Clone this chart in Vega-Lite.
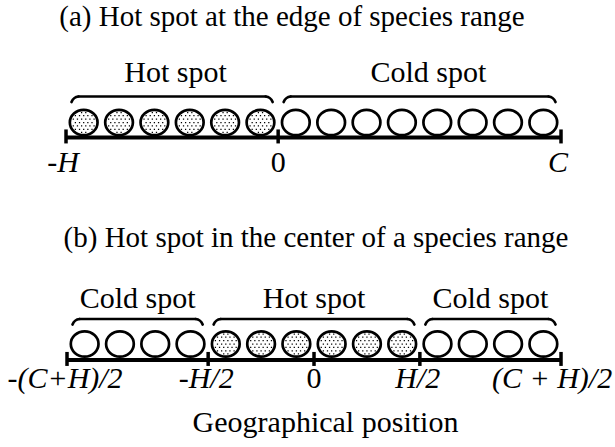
{
  "$schema": "https://vega.github.io/schema/vega-lite/v6.json",
  "padding": 0,
  "spacing": 0,
  "background": "white",
  "config": {
    "view": {"stroke": null},
    "concat": {"spacing": 0},
    "text": {"font": "Liberation Serif", "fontSize": 30, "color": "black", "baseline": "alphabetic"}
  },
  "datasets": {
    "circlesA": [
      {"pos": -5.5, "zone": "hot"}, {"pos": -4.5, "zone": "hot"}, {"pos": -3.5, "zone": "hot"},
      {"pos": -2.5, "zone": "hot"}, {"pos": -1.5, "zone": "hot"}, {"pos": -0.5, "zone": "hot"},
      {"pos": 0.5, "zone": "cold"}, {"pos": 1.5, "zone": "cold"}, {"pos": 2.5, "zone": "cold"},
      {"pos": 3.5, "zone": "cold"}, {"pos": 4.5, "zone": "cold"}, {"pos": 5.5, "zone": "cold"},
      {"pos": 6.5, "zone": "cold"}, {"pos": 7.5, "zone": "cold"}
    ],
    "circlesB": [
      {"pos": -6.5, "zone": "cold"}, {"pos": -5.5, "zone": "cold"}, {"pos": -4.5, "zone": "cold"},
      {"pos": -3.5, "zone": "cold"}, {"pos": -2.5, "zone": "hot"}, {"pos": -1.5, "zone": "hot"},
      {"pos": -0.5, "zone": "hot"}, {"pos": 0.5, "zone": "hot"}, {"pos": 1.5, "zone": "hot"},
      {"pos": 2.5, "zone": "hot"}, {"pos": 3.5, "zone": "cold"}, {"pos": 4.5, "zone": "cold"},
      {"pos": 5.5, "zone": "cold"}, {"pos": 6.5, "zone": "cold"}
    ],
    "spotsA": [
      {"label": "Hot spot", "from": -6, "to": 0, "mid": -2.9},
      {"label": "Cold spot", "from": 0, "to": 8, "mid": 4.25}
    ],
    "spotsB": [
      {"label": "Cold spot", "from": -7, "to": -3, "mid": -5},
      {"label": "Hot spot", "from": -3, "to": 3, "mid": 0},
      {"label": "Cold spot", "from": 3, "to": 7, "mid": 5}
    ],
    "ticksA": [
      {"value": -6, "label": "-H"},
      {"value": 0, "label": "0"},
      {"value": 8, "label": "C"}
    ],
    "ticksB": [
      {"value": -7, "label": "-(C+H)/2"},
      {"value": -3, "label": "-H/2"},
      {"value": 0, "label": "0"},
      {"value": 3, "label": "H/2"},
      {"value": 7, "label": "(C + H)/2"}
    ]
  },
  "vconcat": [
    {
      "width": 615,
      "height": 215,
      "layer": [
        {
          "data": {"name": "ticksA"},
          "mark": {"type": "rule", "color": "black", "strokeWidth": 4},
          "encoding": {
            "x": {"aggregate": "min", "field": "value", "type": "quantitative", "scale": {"domain": [-7.867, 9.527], "nice": false, "zero": false}, "axis": null},
            "x2": {"aggregate": "max", "field": "value"},
            "y": {"datum": 0, "type": "quantitative", "scale": {"domain": [-2.192, 3.889], "nice": false, "zero": false}, "axis": null}
          }
        },
        {
          "data": {"name": "ticksA"},
          "mark": {"type": "tick", "orient": "vertical", "size": 14, "thickness": 3.5, "color": "black", "opacity": 1},
          "encoding": {
            "x": {"field": "value", "type": "quantitative", "scale": {"domain": [-7.867, 9.527], "nice": false, "zero": false}, "axis": null},
            "y": {"datum": 0.03, "type": "quantitative", "scale": {"domain": [-2.192, 3.889], "nice": false, "zero": false}, "axis": null}
          }
        },
        {
          "data": {"name": "circlesA"},
          "mark": {"type": "point", "shape": "M-1,0C-1,-0.5026,-0.5523,-0.91,0,-0.91C0.5523,-0.91,1,-0.5026,1,0C1,0.5026,0.5523,0.91,0,0.91C-0.5523,0.91,-1,0.5026,-1,0Z", "size": 767, "filled": true, "fill": "white", "stroke": "black", "strokeWidth": 2.7, "opacity": 1},
          "encoding": {
            "x": {"field": "pos", "type": "quantitative", "scale": {"domain": [-7.867, 9.527], "nice": false, "zero": false}, "axis": null},
            "y": {"datum": 0.424, "type": "quantitative", "scale": {"domain": [-2.192, 3.889], "nice": false, "zero": false}, "axis": null}
          }
        },
        {
          "data": {"name": "circlesA"},
          "transform": [{"filter": "datum.zone == 'hot'"}],
          "mark": {"type": "point", "shape": "M-0.195,-0.765h0.09v0.09h-0.09Z M0.105,-0.765h0.09v0.09h-0.09Z M-0.645,-0.545h0.09v0.09h-0.09Z M-0.345,-0.545h0.09v0.09h-0.09Z M-0.045,-0.545h0.09v0.09h-0.09Z M0.255,-0.545h0.09v0.09h-0.09Z M0.555,-0.545h0.09v0.09h-0.09Z M-0.795,-0.295h0.09v0.09h-0.09Z M-0.495,-0.295h0.09v0.09h-0.09Z M-0.195,-0.295h0.09v0.09h-0.09Z M0.105,-0.295h0.09v0.09h-0.09Z M0.405,-0.295h0.09v0.09h-0.09Z M0.705,-0.295h0.09v0.09h-0.09Z M-0.645,-0.045h0.09v0.09h-0.09Z M-0.345,-0.045h0.09v0.09h-0.09Z M-0.045,-0.045h0.09v0.09h-0.09Z M0.255,-0.045h0.09v0.09h-0.09Z M0.555,-0.045h0.09v0.09h-0.09Z M-0.795,0.205h0.09v0.09h-0.09Z M-0.495,0.205h0.09v0.09h-0.09Z M-0.195,0.205h0.09v0.09h-0.09Z M0.105,0.205h0.09v0.09h-0.09Z M0.405,0.205h0.09v0.09h-0.09Z M0.705,0.205h0.09v0.09h-0.09Z M-0.645,0.455h0.09v0.09h-0.09Z M-0.345,0.455h0.09v0.09h-0.09Z M-0.045,0.455h0.09v0.09h-0.09Z M0.255,0.455h0.09v0.09h-0.09Z M0.555,0.455h0.09v0.09h-0.09Z M-0.195,0.675h0.09v0.09h-0.09Z M0.105,0.675h0.09v0.09h-0.09Z", "size": 767, "filled": true, "color": "black", "strokeWidth": 0, "opacity": 1},
          "encoding": {
            "x": {"field": "pos", "type": "quantitative", "scale": {"domain": [-7.867, 9.527], "nice": false, "zero": false}, "axis": null},
            "y": {"datum": 0.424, "type": "quantitative", "scale": {"domain": [-2.192, 3.889], "nice": false, "zero": false}, "axis": null}
          }
        },
        {
          "data": {"name": "spotsA"},
          "mark": {"type": "rule", "color": "black", "strokeWidth": 2.7, "strokeCap": "round", "xOffset": 12.5, "x2Offset": -12.5},
          "encoding": {
            "x": {"field": "from", "type": "quantitative", "scale": {"domain": [-7.867, 9.527], "nice": false, "zero": false}, "axis": null},
            "x2": {"field": "to"},
            "y": {"datum": 1.16, "type": "quantitative", "scale": {"domain": [-2.192, 3.889], "nice": false, "zero": false}, "axis": null}
          }
        },
        {
          "data": {"name": "spotsA"},
          "mark": {"type": "point", "shape": "M0,0Q-5,0.5,-7,5.5", "size": 4, "filled": false, "color": "black", "strokeWidth": 2.7, "strokeCap": "round", "opacity": 1, "xOffset": 12.5},
          "encoding": {
            "x": {"field": "from", "type": "quantitative", "scale": {"domain": [-7.867, 9.527], "nice": false, "zero": false}, "axis": null},
            "y": {"datum": 1.16, "type": "quantitative", "scale": {"domain": [-2.192, 3.889], "nice": false, "zero": false}, "axis": null}
          }
        },
        {
          "data": {"name": "spotsA"},
          "mark": {"type": "point", "shape": "M0,0Q5,0.5,7,5.5", "size": 4, "filled": false, "color": "black", "strokeWidth": 2.7, "strokeCap": "round", "opacity": 1, "xOffset": -12.5},
          "encoding": {
            "x": {"field": "to", "type": "quantitative", "scale": {"domain": [-7.867, 9.527], "nice": false, "zero": false}, "axis": null},
            "y": {"datum": 1.16, "type": "quantitative", "scale": {"domain": [-2.192, 3.889], "nice": false, "zero": false}, "axis": null}
          }
        },
        {
          "data": {"name": "spotsA"},
          "mark": {"type": "text", "align": "center", "font": "Liberation Serif"},
          "encoding": {
            "x": {"field": "mid", "type": "quantitative", "scale": {"domain": [-7.867, 9.527], "nice": false, "zero": false}, "axis": null},
            "y": {"datum": 1.556, "type": "quantitative", "scale": {"domain": [-2.192, 3.889], "nice": false, "zero": false}, "axis": null},
            "text": {"field": "label"}
          }
        },
        {
          "data": {"name": "ticksA"},
          "transform": [{"filter": "datum.label != '0'"}],
          "mark": {"type": "text", "align": "center", "fontStyle": "italic", "dx": -3, "font": "Liberation Serif"},
          "encoding": {
            "x": {"field": "value", "type": "quantitative", "scale": {"domain": [-7.867, 9.527], "nice": false, "zero": false}, "axis": null},
            "y": {"datum": -0.962, "type": "quantitative", "scale": {"domain": [-2.192, 3.889], "nice": false, "zero": false}, "axis": null},
            "text": {"field": "label"}
          }
        },
        {
          "data": {"name": "ticksA"},
          "transform": [{"filter": "datum.label == '0'"}],
          "mark": {"type": "text", "align": "center", "font": "Liberation Serif"},
          "encoding": {
            "x": {"field": "value", "type": "quantitative", "scale": {"domain": [-7.867, 9.527], "nice": false, "zero": false}, "axis": null},
            "y": {"datum": -0.962, "type": "quantitative", "scale": {"domain": [-2.192, 3.889], "nice": false, "zero": false}, "axis": null},
            "text": {"field": "label"}
          }
        },
        {
          "data": {"values": [{"title": "(a) Hot spot at the edge of species range"}]},
          "mark": {"type": "text", "align": "center", "fontSize": 29, "font": "Liberation Serif"},
          "encoding": {
            "x": {"datum": 0.392, "type": "quantitative", "scale": {"domain": [-7.867, 9.527], "nice": false, "zero": false}, "axis": null},
            "y": {"datum": 3.154, "type": "quantitative", "scale": {"domain": [-2.192, 3.889], "nice": false, "zero": false}, "axis": null},
            "text": {"field": "title"}
          }
        }
      ]
    },
    {
      "width": 615,
      "height": 232,
      "layer": [
        {
          "data": {"name": "ticksB"},
          "mark": {"type": "rule", "color": "black", "strokeWidth": 4},
          "encoding": {
            "x": {"aggregate": "min", "field": "value", "type": "quantitative", "scale": {"domain": [-8.899, 8.53], "nice": false, "zero": false}, "axis": null},
            "x2": {"aggregate": "max", "field": "value"},
            "y": {"datum": 0, "type": "quantitative", "scale": {"domain": [-2.465, 4.108], "nice": false, "zero": false}, "axis": null}
          }
        },
        {
          "data": {"name": "ticksB"},
          "mark": {"type": "tick", "orient": "vertical", "size": 14, "thickness": 3.5, "color": "black", "opacity": 1},
          "encoding": {
            "x": {"field": "value", "type": "quantitative", "scale": {"domain": [-8.899, 8.53], "nice": false, "zero": false}, "axis": null},
            "y": {"datum": 0.03, "type": "quantitative", "scale": {"domain": [-2.465, 4.108], "nice": false, "zero": false}, "axis": null}
          }
        },
        {
          "data": {"name": "circlesB"},
          "mark": {"type": "point", "shape": "M-1,0C-1,-0.5026,-0.5523,-0.91,0,-0.91C0.5523,-0.91,1,-0.5026,1,0C1,0.5026,0.5523,0.91,0,0.91C-0.5523,0.91,-1,0.5026,-1,0Z", "size": 767, "filled": true, "fill": "white", "stroke": "black", "strokeWidth": 2.7, "opacity": 1},
          "encoding": {
            "x": {"field": "pos", "type": "quantitative", "scale": {"domain": [-8.899, 8.53], "nice": false, "zero": false}, "axis": null},
            "y": {"datum": 0.453, "type": "quantitative", "scale": {"domain": [-2.465, 4.108], "nice": false, "zero": false}, "axis": null}
          }
        },
        {
          "data": {"name": "circlesB"},
          "transform": [{"filter": "datum.zone == 'hot'"}],
          "mark": {"type": "point", "shape": "M-0.195,-0.765h0.09v0.09h-0.09Z M0.105,-0.765h0.09v0.09h-0.09Z M-0.645,-0.545h0.09v0.09h-0.09Z M-0.345,-0.545h0.09v0.09h-0.09Z M-0.045,-0.545h0.09v0.09h-0.09Z M0.255,-0.545h0.09v0.09h-0.09Z M0.555,-0.545h0.09v0.09h-0.09Z M-0.795,-0.295h0.09v0.09h-0.09Z M-0.495,-0.295h0.09v0.09h-0.09Z M-0.195,-0.295h0.09v0.09h-0.09Z M0.105,-0.295h0.09v0.09h-0.09Z M0.405,-0.295h0.09v0.09h-0.09Z M0.705,-0.295h0.09v0.09h-0.09Z M-0.645,-0.045h0.09v0.09h-0.09Z M-0.345,-0.045h0.09v0.09h-0.09Z M-0.045,-0.045h0.09v0.09h-0.09Z M0.255,-0.045h0.09v0.09h-0.09Z M0.555,-0.045h0.09v0.09h-0.09Z M-0.795,0.205h0.09v0.09h-0.09Z M-0.495,0.205h0.09v0.09h-0.09Z M-0.195,0.205h0.09v0.09h-0.09Z M0.105,0.205h0.09v0.09h-0.09Z M0.405,0.205h0.09v0.09h-0.09Z M0.705,0.205h0.09v0.09h-0.09Z M-0.645,0.455h0.09v0.09h-0.09Z M-0.345,0.455h0.09v0.09h-0.09Z M-0.045,0.455h0.09v0.09h-0.09Z M0.255,0.455h0.09v0.09h-0.09Z M0.555,0.455h0.09v0.09h-0.09Z M-0.195,0.675h0.09v0.09h-0.09Z M0.105,0.675h0.09v0.09h-0.09Z", "size": 767, "filled": true, "color": "black", "strokeWidth": 0, "opacity": 1},
          "encoding": {
            "x": {"field": "pos", "type": "quantitative", "scale": {"domain": [-8.899, 8.53], "nice": false, "zero": false}, "axis": null},
            "y": {"datum": 0.453, "type": "quantitative", "scale": {"domain": [-2.465, 4.108], "nice": false, "zero": false}, "axis": null}
          }
        },
        {
          "data": {"name": "spotsB"},
          "mark": {"type": "rule", "color": "black", "strokeWidth": 2.7, "strokeCap": "round", "xOffset": 12.5, "x2Offset": -12.5},
          "encoding": {
            "x": {"field": "from", "type": "quantitative", "scale": {"domain": [-8.899, 8.53], "nice": false, "zero": false}, "axis": null},
            "x2": {"field": "to"},
            "y": {"datum": 1.161, "type": "quantitative", "scale": {"domain": [-2.465, 4.108], "nice": false, "zero": false}, "axis": null}
          }
        },
        {
          "data": {"name": "spotsB"},
          "mark": {"type": "point", "shape": "M0,0Q-5,0.5,-7,5.5", "size": 4, "filled": false, "color": "black", "strokeWidth": 2.7, "strokeCap": "round", "opacity": 1, "xOffset": 12.5},
          "encoding": {
            "x": {"field": "from", "type": "quantitative", "scale": {"domain": [-8.899, 8.53], "nice": false, "zero": false}, "axis": null},
            "y": {"datum": 1.161, "type": "quantitative", "scale": {"domain": [-2.465, 4.108], "nice": false, "zero": false}, "axis": null}
          }
        },
        {
          "data": {"name": "spotsB"},
          "mark": {"type": "point", "shape": "M0,0Q5,0.5,7,5.5", "size": 4, "filled": false, "color": "black", "strokeWidth": 2.7, "strokeCap": "round", "opacity": 1, "xOffset": -12.5},
          "encoding": {
            "x": {"field": "to", "type": "quantitative", "scale": {"domain": [-8.899, 8.53], "nice": false, "zero": false}, "axis": null},
            "y": {"datum": 1.161, "type": "quantitative", "scale": {"domain": [-2.465, 4.108], "nice": false, "zero": false}, "axis": null}
          }
        },
        {
          "data": {"name": "spotsB"},
          "mark": {"type": "text", "align": "center", "font": "Liberation Serif"},
          "encoding": {
            "x": {"field": "mid", "type": "quantitative", "scale": {"domain": [-8.899, 8.53], "nice": false, "zero": false}, "axis": null},
            "y": {"datum": 1.473, "type": "quantitative", "scale": {"domain": [-2.465, 4.108], "nice": false, "zero": false}, "axis": null},
            "text": {"field": "label"}
          }
        },
        {
          "data": {"name": "ticksB"},
          "transform": [{"filter": "datum.label != '0' && datum.label != '(C + H)/2'"}],
          "mark": {"type": "text", "align": "center", "fontStyle": "italic", "dx": -2, "font": "Liberation Serif"},
          "encoding": {
            "x": {"field": "value", "type": "quantitative", "scale": {"domain": [-8.899, 8.53], "nice": false, "zero": false}, "axis": null},
            "y": {"datum": -0.793, "type": "quantitative", "scale": {"domain": [-2.465, 4.108], "nice": false, "zero": false}, "axis": null},
            "text": {"field": "label"}
          }
        },
        {
          "data": {"name": "ticksB"},
          "transform": [{"filter": "datum.label == '(C + H)/2'"}],
          "mark": {"type": "text", "align": "center", "fontStyle": "italic", "dx": -9, "font": "Liberation Serif"},
          "encoding": {
            "x": {"field": "value", "type": "quantitative", "scale": {"domain": [-8.899, 8.53], "nice": false, "zero": false}, "axis": null},
            "y": {"datum": -0.793, "type": "quantitative", "scale": {"domain": [-2.465, 4.108], "nice": false, "zero": false}, "axis": null},
            "text": {"field": "label"}
          }
        },
        {
          "data": {"name": "ticksB"},
          "transform": [{"filter": "datum.label == '0'"}],
          "mark": {"type": "text", "align": "center", "font": "Liberation Serif"},
          "encoding": {
            "x": {"field": "value", "type": "quantitative", "scale": {"domain": [-8.899, 8.53], "nice": false, "zero": false}, "axis": null},
            "y": {"datum": -0.793, "type": "quantitative", "scale": {"domain": [-2.465, 4.108], "nice": false, "zero": false}, "axis": null},
            "text": {"field": "label"}
          }
        },
        {
          "data": {"values": [{"title": "(b) Hot spot in the center of a species range"}]},
          "mark": {"type": "text", "align": "center", "fontSize": 29, "font": "Liberation Serif"},
          "encoding": {
            "x": {"datum": 0.057, "type": "quantitative", "scale": {"domain": [-8.899, 8.53], "nice": false, "zero": false}, "axis": null},
            "y": {"datum": 3.201, "type": "quantitative", "scale": {"domain": [-2.465, 4.108], "nice": false, "zero": false}, "axis": null},
            "text": {"field": "title"}
          }
        },
        {
          "data": {"values": [{"title": "Geographical position"}]},
          "mark": {"type": "text", "align": "center", "font": "Liberation Serif"},
          "encoding": {
            "x": {"datum": 0.326, "type": "quantitative", "scale": {"domain": [-8.899, 8.53], "nice": false, "zero": false}, "axis": null},
            "y": {"datum": -2.031, "type": "quantitative", "scale": {"domain": [-2.465, 4.108], "nice": false, "zero": false}, "axis": null},
            "text": {"field": "title"}
          }
        }
      ]
    }
  ]
}
